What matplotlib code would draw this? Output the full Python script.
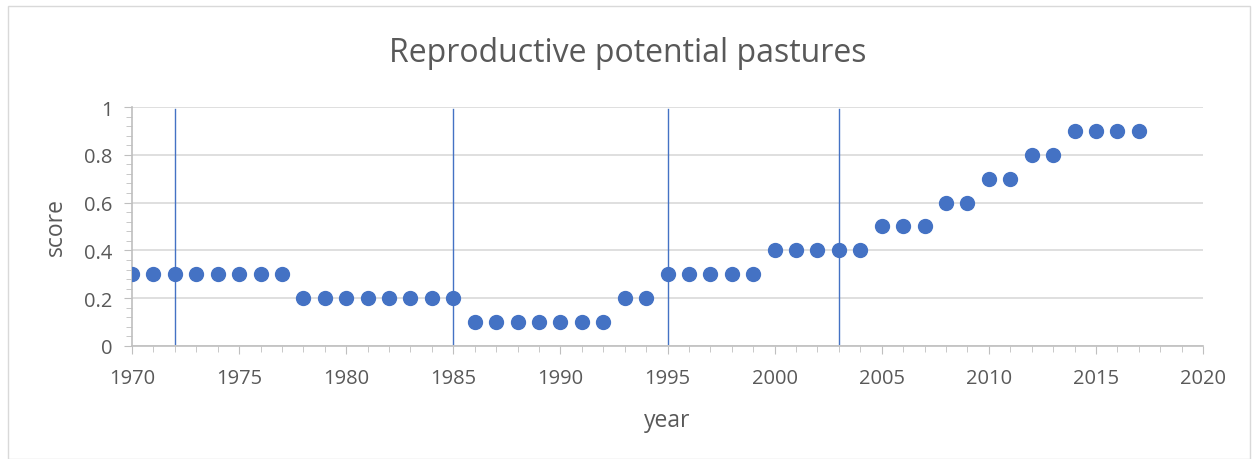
import numpy as np
import matplotlib.pyplot as plt
from matplotlib.patches import Rectangle

# data
years = np.arange(1970, 2018)
scores = ([0.3]*8 + [0.2]*8 + [0.1]*7 + [0.2]*2 + [0.3]*5 + [0.4]*5
          + [0.5]*3 + [0.6]*2 + [0.7]*2 + [0.8]*2 + [0.9]*4)
vlines = [1972, 1985, 1995, 2003]

plt.rcParams['font.family'] = ['Open Sans', 'DejaVu Sans']
txt = "#595959"
axcol = "#BFBFBF"
blue = "#4472C4"

fig = plt.figure(figsize=(12.55, 4.6), dpi=100)
ax = fig.add_axes([0.1052, 0.2457, 0.8534, 0.5195])

ax.plot(years, scores, "o", ms=10, color=blue, zorder=3)
for v in vlines:
    ax.axvline(v, ymin=0.01, ymax=0.99, color=blue, lw=1, zorder=2)

ax.set_xlim(1970, 2020)
ax.set_ylim(0, 1)
ax.set_xticks(np.arange(1970, 2021, 5))
ax.set_xticks(np.arange(1970, 2021, 1), minor=True)
ax.set_yticks(np.arange(0, 1.01, 0.2))
ax.set_yticks(np.arange(0, 1.001, 0.04), minor=True)
ax.set_yticklabels(["0", "0.2", "0.4", "0.6", "0.8", "1"])
ax.grid(axis="y", color="#D9D9D9", lw=1.2, zorder=0)
ax.set_axisbelow(True)

for s in ["top", "right"]:
    ax.spines[s].set_visible(False)
for s in ["left", "bottom"]:
    ax.spines[s].set_color(axcol)
    ax.spines[s].set_linewidth(1.2)

ax.tick_params(which="major", length=6, color=axcol, labelcolor=txt, labelsize=14.5)
ax.tick_params(axis="y", which="major", pad=8)
ax.tick_params(axis="x", which="major", pad=10)
ax.tick_params(which="minor", length=4, color=axcol)

ax.set_xlabel("year", fontsize=16.5, color=txt, labelpad=14)
ax.set_ylabel("score", fontsize=16.5, color=txt, labelpad=12)
fig.suptitle("Reproductive potential pastures", fontsize=23, color=txt, y=0.92)

fig.patches.append(Rectangle((0.006, 0.0), 0.99, 0.985, transform=fig.transFigure,
                             fill=False, edgecolor="#D9D9D9", lw=1))

fig.savefig("out.png", dpi=100)
